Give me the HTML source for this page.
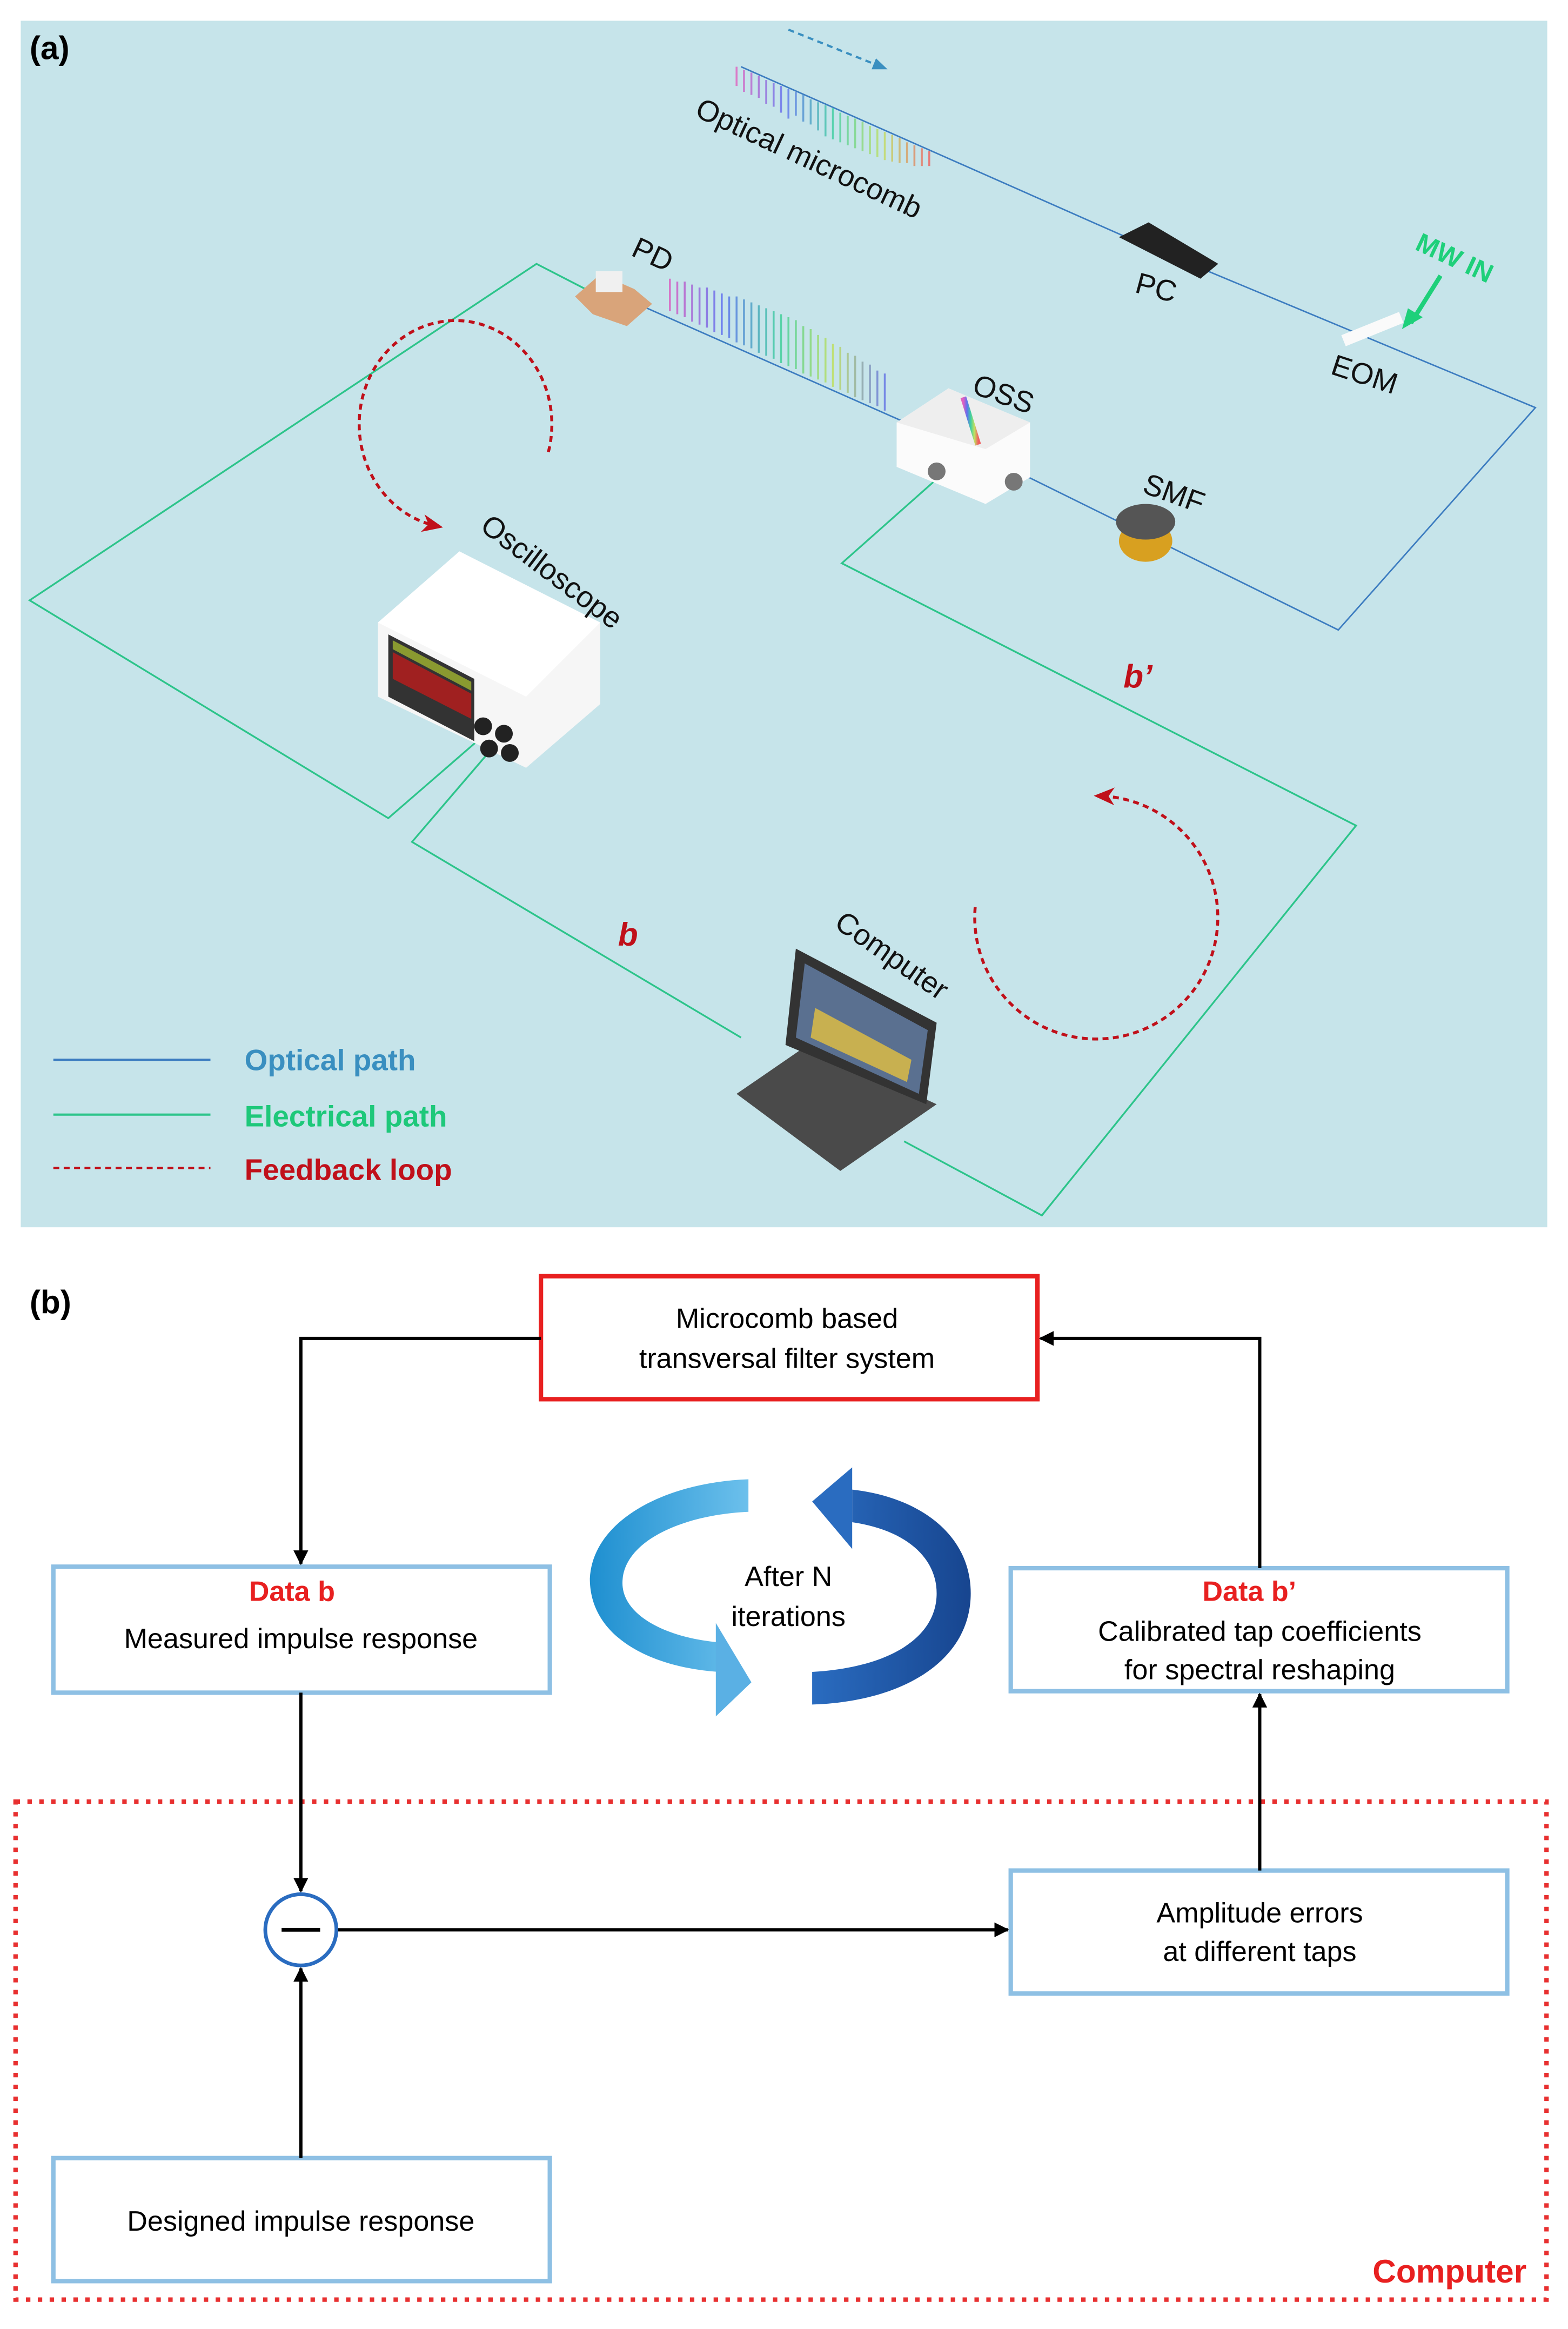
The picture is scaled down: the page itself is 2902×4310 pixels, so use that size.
<!DOCTYPE html>
<html><head><meta charset="utf-8"><style>
html,body{margin:0;padding:0;background:#fff}
svg{display:block}
text{font-family:"Liberation Sans",Arial,sans-serif}
</style></head><body>
<svg width="2902" height="4310" viewBox="0 0 1058 1571.3" xmlns="http://www.w3.org/2000/svg">
<defs>
<linearGradient id="rb" x1="0" x2="1" y1="0" y2="0">
<stop offset="0" stop-color="#e060c0"/><stop offset="0.25" stop-color="#6070f0"/><stop offset="0.5" stop-color="#40d0a0"/><stop offset="0.75" stop-color="#c0e060"/><stop offset="1" stop-color="#f06060"/></linearGradient>
<linearGradient id="rbu" gradientUnits="userSpaceOnUse" x1="497" x2="628" y1="0" y2="0">
<stop offset="0" stop-color="#e060c0"/><stop offset="0.25" stop-color="#6070f0"/><stop offset="0.5" stop-color="#40d0a0"/><stop offset="0.75" stop-color="#c0e060"/><stop offset="1" stop-color="#f06060"/></linearGradient>
<linearGradient id="rbu2" gradientUnits="userSpaceOnUse" x1="450" x2="600" y1="0" y2="0">
<stop offset="0" stop-color="#e060c0"/><stop offset="0.25" stop-color="#6070f0"/><stop offset="0.5" stop-color="#40d0a0"/><stop offset="0.75" stop-color="#c0e060"/><stop offset="1" stop-color="#6070f0"/></linearGradient>
<linearGradient id="lb" x1="0" x2="1"><stop offset="0" stop-color="#1e8fd0"/><stop offset="1" stop-color="#6cc0ec"/></linearGradient>
<linearGradient id="db" x1="0" x2="1"><stop offset="0" stop-color="#2a6cc0"/><stop offset="1" stop-color="#17458f"/></linearGradient>
<marker id="ah" markerWidth="10" markerHeight="10" refX="9" refY="5" orient="auto" markerUnits="userSpaceOnUse"><path d="M0,0 L10,5 L0,10 z" fill="#000"/></marker>
<marker id="rh" markerWidth="14" markerHeight="12" refX="10" refY="6" orient="auto" markerUnits="userSpaceOnUse"><path d="M0,0 L14,6 L0,12 L4,6 z" fill="#c0101a"/></marker>
<marker id="bh" markerWidth="10" markerHeight="8" refX="8" refY="4" orient="auto" markerUnits="userSpaceOnUse"><path d="M0,0 L10,4 L0,8 z" fill="#3a8fc0"/></marker>
</defs>
<rect x="0" y="0" width="1058" height="1572" fill="#fff"/>
<rect x="14" y="14" width="1030" height="814" fill="#c6e4ea"/>
<text x="20" y="40" font-size="22" font-weight="bold">(a)</text>
<g stroke="#3c7cc0" stroke-width="1" fill="none">
<path d="M500,45 L760,160 L1036,275 L903,425 L690,320 L430,205"/>
</g>
<path d="M532,20 L597,46" stroke="#3a8fc0" stroke-width="1.5" stroke-dasharray="4,3" fill="none" marker-end="url(#bh)"/>
<!-- combs as vertical lines -->
<g stroke="url(#rbu)" stroke-width="1.3" opacity="0.8">
<path d="M497,45V58 M502,47V62 M507,49V64 M512,51V66 M517,54V70 M522,56V72 M527,58V76 M532,60V80 M537,62V78 M542,64V82 M547,67V84 M552,69V88 M557,71V92 M562,73V94 M567,76V96 M572,78V98 M577,80V100 M582,82V102 M587,85V104 M592,87V106 M597,89V108 M602,91V109 M607,93V110 M612,96V110 M617,98V112 M622,100V112 M627,102V112"/>
</g>
<g stroke="url(#rbu2)" stroke-width="1.3" opacity="0.85">
<path d="M452,210V188 M457,212V190 M462,214V190 M467,217V192 M472,219V194 M477,221V194 M482,224V196 M487,226V198 M492,228V200 M497,231V200 M502,233V202 M507,235V204 M512,238V206 M517,240V208 M522,242V210 M527,245V212 M532,247V214 M537,249V216 M542,252V220 M547,254V222 M552,256V226 M557,258V228 M562,261V232 M567,263V234 M572,265V238 M577,268V240 M582,270V244 M587,272V246 M592,274V250 M597,277V252"/>
</g>
<g stroke="#2cc48a" stroke-width="1.2" fill="none">
<path d="M395,195 L362,178 L20,405 L262,552 L322,500"/>
<path d="M332,505 L278,568 L500,700"/>
<path d="M630,325 L568,380 L915,557 L703,820 L610,770"/>
</g>
<path d="M370,305 A65,70 0 1 0 295,355" stroke="#c0101a" stroke-width="2" stroke-dasharray="4,3" fill="none" marker-end="url(#rh)"/>
<path d="M658,612 A82,82 0 1 0 742,537" stroke="#c0101a" stroke-width="2" stroke-dasharray="4,3" fill="none" marker-end="url(#rh)"/>
<path d="M388,200 L405,185 L428,195 L440,205 L423,220 L400,212 z" fill="#d9a47a"/>
<rect x="402" y="183" width="18" height="14" fill="#f0f0f0"/>
<path d="M755,160 L775,150 L822,178 L810,188 z" fill="#222"/>
<rect x="905" y="218" width="42" height="8" fill="#fafafa" transform="rotate(-22 926 222)"/>
<path d="M605,285 L640,262 L695,285 L695,322 L665,340 L605,315 z" fill="#fbfbfb"/>
<path d="M605,285 L640,262 L695,285 L665,303 z" fill="#eee"/>
<path d="M650,268 L660,300" stroke="url(#rb)" stroke-width="4"/>
<circle cx="632" cy="318" r="6" fill="#777"/><circle cx="684" cy="325" r="6" fill="#777"/>
<ellipse cx="773" cy="365" rx="18" ry="14" fill="#d8a020"/><ellipse cx="773" cy="352" rx="20" ry="12" fill="#555"/>
<path d="M255,420 L310,372 L405,420 L405,475 L355,518 L255,470 z" fill="#f6f6f6"/>
<path d="M255,420 L310,372 L405,420 L355,470 z" fill="#fff"/>
<path d="M262,428 L320,458 L320,500 L262,470 z" fill="#333"/>
<path d="M265,440 L318,468 L318,485 L265,458 z" fill="#a02020"/>
<path d="M265,432 L318,460 L318,466 L265,438 z" fill="#8a9a30"/>
<circle cx="326" cy="490" r="6" fill="#222"/><circle cx="340" cy="495" r="6" fill="#222"/><circle cx="330" cy="505" r="6" fill="#222"/><circle cx="344" cy="508" r="6" fill="#222"/>
<path d="M497,738 L545,705 L632,745 L567,790 z" fill="#4a4a4a"/>
<path d="M537,640 L632,690 L625,745 L530,705 z" fill="#333"/>
<path d="M543,650 L626,695 L620,738 L537,700 z" fill="#5a7090"/>
<path d="M550,680 L615,715 L612,730 L547,700 z" fill="#c8b050"/>
<g font-size="20" fill="#111">
<text x="425" y="172" transform="rotate(25 425 172)">PD</text>
<text x="468" y="78" transform="rotate(25 468 78)">Optical microcomb</text>
<text x="765" y="197" transform="rotate(15 765 197)">PC</text>
<text x="897" y="252" transform="rotate(18 897 252)">EOM</text>
<text x="655" y="265" transform="rotate(20 655 265)">OSS</text>
<text x="770" y="332" transform="rotate(20 770 332)">SMF</text>
<text x="323" y="357" transform="rotate(37 323 357)">Oscilloscope</text>
<text x="562" y="625" transform="rotate(35 562 625)">Computer</text>
</g>
<text x="954" y="168" font-size="18" font-weight="bold" fill="#1ed07a" transform="rotate(25 954 168)">MW IN</text>
<path d="M972,186 L952,218" stroke="#1ed07a" stroke-width="3" fill="none"/>
<path d="M946,222 L950,208 L960,214 z" fill="#1ed07a"/>
<text x="758" y="464" font-size="22" font-weight="bold" font-style="italic" fill="#c0101a">b’</text>
<text x="417" y="638" font-size="22" font-weight="bold" font-style="italic" fill="#c0101a">b</text>
<line x1="36" y1="715" x2="142" y2="715" stroke="#3c7cc0" stroke-width="1.5"/>
<line x1="36" y1="752" x2="142" y2="752" stroke="#2cc48a" stroke-width="1.5"/>
<line x1="36" y1="788" x2="142" y2="788" stroke="#c0101a" stroke-width="1.5" stroke-dasharray="4,3"/>
<text x="165" y="722" font-size="20" font-weight="bold" fill="#3a8fc0">Optical path</text>
<text x="165" y="760" font-size="20" font-weight="bold" fill="#1ec87a">Electrical path</text>
<text x="165" y="796" font-size="20" font-weight="bold" fill="#c0101a">Feedback loop</text>
<text x="20" y="886" font-size="22" font-weight="bold">(b)</text>
<rect x="10.5" y="1215.5" width="1033" height="336" fill="none" stroke="#e83030" stroke-width="3" stroke-dasharray="3,5"/>
<text x="1030" y="1540" font-size="22" font-weight="bold" fill="#e82020" text-anchor="end">Computer</text>
<rect x="365" y="861" width="335" height="83" fill="#fff" stroke="#e82020" stroke-width="3"/>
<text x="531" y="896" font-size="19" text-anchor="middle">Microcomb based</text>
<text x="531" y="923" font-size="19" text-anchor="middle">transversal filter system</text>
<g fill="#fff" stroke="#8ec0e4" stroke-width="3">
<rect x="36" y="1057" width="335" height="85"/>
<rect x="682" y="1058" width="335" height="83"/>
<rect x="682" y="1262" width="335" height="83"/>
<rect x="36" y="1456" width="335" height="83"/>
</g>
<text x="197" y="1080" font-size="19" font-weight="bold" fill="#e82020" text-anchor="middle">Data b</text>
<text x="203" y="1112" font-size="19" text-anchor="middle">Measured impulse response</text>
<text x="843" y="1080" font-size="19" font-weight="bold" fill="#e82020" text-anchor="middle">Data b’</text>
<text x="850" y="1107" font-size="19" text-anchor="middle">Calibrated tap coefficients</text>
<text x="850" y="1133" font-size="19" text-anchor="middle">for spectral reshaping</text>
<text x="850" y="1297" font-size="19" text-anchor="middle">Amplitude errors</text>
<text x="850" y="1323" font-size="19" text-anchor="middle">at different taps</text>
<text x="203" y="1505" font-size="19" text-anchor="middle">Designed impulse response</text>
<g stroke="#000" stroke-width="2.2" fill="none">
<path d="M365,903 L203,903 L203,1055" marker-end="url(#ah)"/>
<path d="M850,1058 L850,903 L702,903" marker-end="url(#ah)"/>
<path d="M203,1142 L203,1276" marker-end="url(#ah)"/>
<path d="M203,1456 L203,1328" marker-end="url(#ah)"/>
<path d="M227,1302 L680,1302" marker-end="url(#ah)"/>
<path d="M850,1262 L850,1143" marker-end="url(#ah)"/>
</g>
<circle cx="203" cy="1302" r="24" fill="#fff" stroke="#2a6cc0" stroke-width="2.5"/>
<line x1="190" y1="1302" x2="216" y2="1302" stroke="#000" stroke-width="2.5"/>
<path d="M505,998 C450,1000 400,1025 398,1065 C398,1105 440,1125 485,1128 L485,1108 C450,1105 420,1090 420,1068 C420,1040 460,1022 505,1020 z" fill="url(#lb)"/>
<path d="M483,1095 L507,1135 L483,1158 z" fill="#5ab0e4"/>
<path d="M548,1150 C610,1148 655,1120 655,1075 C655,1035 620,1010 575,1005 L575,1027 C610,1032 632,1050 632,1075 C632,1105 600,1125 548,1128 z" fill="url(#db)"/>
<path d="M575,990 L548,1013 L575,1045 z" fill="#2a6cc0"/>
<text x="532" y="1070" font-size="19" text-anchor="middle">After N</text>
<text x="532" y="1097" font-size="19" text-anchor="middle">iterations</text>
</svg>
</body></html>
